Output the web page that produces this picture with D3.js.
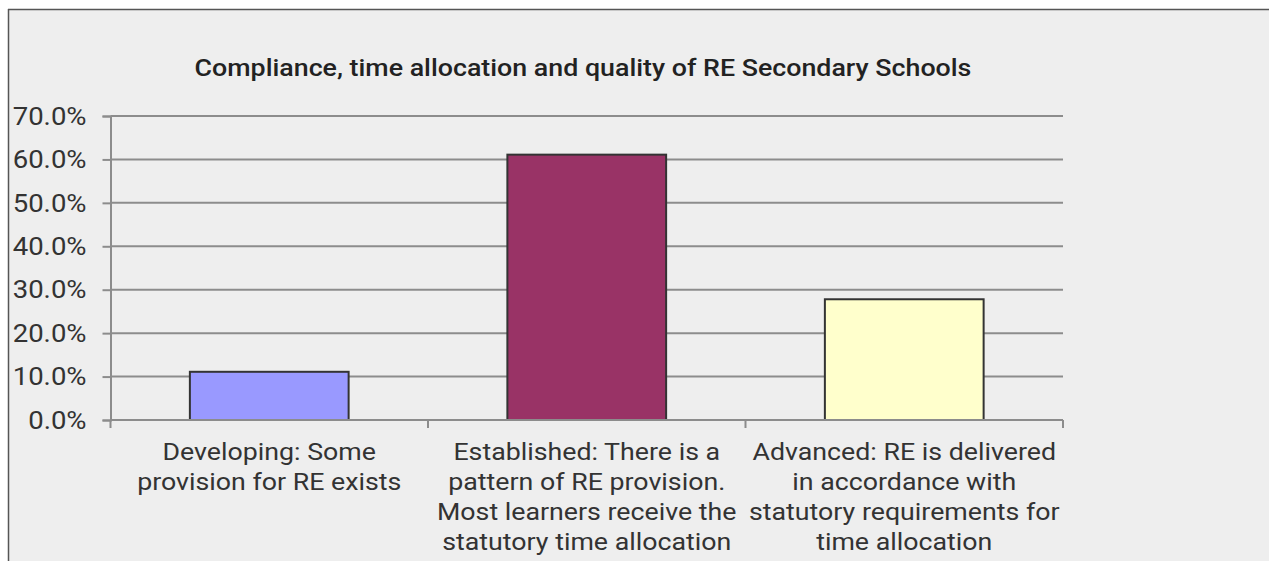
<!DOCTYPE html>
<html>
<head>
<meta charset="utf-8">
<script src="https://cdn.jsdelivr.net/npm/d3@7"></script>
<style>
  html, body { margin: 0; padding: 0; background: #ffffff; }
  svg { display: block; }
  text { font-family: Roboto, "Liberation Sans", sans-serif; fill: #333333; }
</style>
</head>
<body>
<svg id="chart" width="1269" height="561"></svg>
<script>
// Chart data
const title = "Compliance, time allocation and quality of RE Secondary Schools";
const categories = [
  ["Developing: Some", "provision for RE exists"],
  ["Established: There is a", "pattern of RE provision.", "Most learners receive the", "statutory time allocation"],
  ["Advanced: RE is delivered", "in accordance with", "statutory requirements for", "time allocation"]
];
const values = [0.111, 0.611, 0.278];
const barColors = ["#9999ff", "#993366", "#ffffcc"];
const yTicks = [0, 0.1, 0.2, 0.3, 0.4, 0.5, 0.6, 0.7];

const svg = d3.select("#chart");
const W = 1269, H = 561;

// Panel background and frame
svg.append("rect").attr("x", 8).attr("y", 9).attr("width", W - 8).attr("height", H - 9)
  .attr("fill", "#eeeeee");
svg.append("line").attr("x1", 8.5).attr("x2", 8.5).attr("y1", 9).attr("y2", H)
  .attr("stroke", "#555555").attr("stroke-width", 1.5);
svg.append("line").attr("x1", 8).attr("x2", W).attr("y1", 9.5).attr("y2", 9.5)
  .attr("stroke", "#555555").attr("stroke-width", 1.5);

const plot = { left: 110.5, right: 1063, top: 116, bottom: 420 };

const x = d3.scaleBand()
  .domain(d3.range(categories.length))
  .range([plot.left, plot.right])
  .paddingInner(0.5)
  .paddingOuter(0.25);
const xOuter = d3.scaleBand()
  .domain(d3.range(categories.length))
  .range([plot.left, plot.right]);
const y = d3.scaleLinear().domain([0, 0.7]).range([plot.bottom, plot.top]);

const gridColor = "#8c8c8c";

// Horizontal gridlines
svg.append("g").selectAll("line").data(yTicks).join("line")
  .attr("x1", plot.left).attr("x2", plot.right)
  .attr("y1", d => y(d)).attr("y2", d => y(d))
  .attr("stroke", gridColor).attr("stroke-width", 2);

// Y axis
const yAxis = svg.append("g").attr("transform", `translate(${plot.left},0)`)
  .call(d3.axisLeft(y).tickValues(yTicks).tickFormat(d3.format(".1%")).tickSize(8).tickPadding(16));
yAxis.select(".domain").attr("stroke", gridColor).attr("stroke-width", 2);
yAxis.selectAll(".tick line").attr("stroke", gridColor).attr("stroke-width", 2);
yAxis.selectAll(".tick text")
  .attr("font-family", "Roboto, 'Liberation Sans', sans-serif")
  .attr("font-size", 25.5).attr("fill", "#333333")
  .attr("x", 0)
  .attr("transform", "translate(-24,0) scale(1.08,1)");

// Bars
svg.append("g").selectAll("rect").data(values).join("rect")
  .attr("x", (d, i) => x(i))
  .attr("y", d => y(d))
  .attr("width", x.bandwidth())
  .attr("height", d => y(0) - y(d))
  .attr("fill", (d, i) => barColors[i])
  .attr("stroke", "#333333").attr("stroke-width", 2);

// X axis baseline and category ticks
svg.append("line").attr("x1", plot.left).attr("x2", plot.right)
  .attr("y1", plot.bottom).attr("y2", plot.bottom)
  .attr("stroke", gridColor).attr("stroke-width", 2);
const xTickPos = d3.range(categories.length + 1).map(i =>
  i < categories.length ? xOuter(i) : xOuter(i - 1) + xOuter.bandwidth());
svg.append("g").selectAll("line").data(xTickPos).join("line")
  .attr("x1", d => d).attr("x2", d => d)
  .attr("y1", plot.bottom).attr("y2", plot.bottom + 8)
  .attr("stroke", gridColor).attr("stroke-width", 2);

// Category labels (wrapped, set slightly wide)
const labels = svg.append("g").selectAll("text").data(categories).join("text")
  .attr("text-anchor", "middle")
  .attr("font-size", 24)
  .attr("transform", (d, i) => `translate(${xOuter(i) + xOuter.bandwidth() / 2},460) scale(1.115,1)`);
labels.selectAll("tspan").data(d => d).join("tspan")
  .attr("x", 0)
  .attr("dy", (d, i) => i === 0 ? 0 : 30)
  .text(d => d);

// Title
svg.append("text")
  .attr("transform", "translate(583,76) scale(1.14,1)")
  .attr("text-anchor", "middle")
  .attr("font-size", 23.5)
  .attr("font-weight", 500)
  .style("fill", "#222222")
  .text(title);
</script>
</body>
</html>
